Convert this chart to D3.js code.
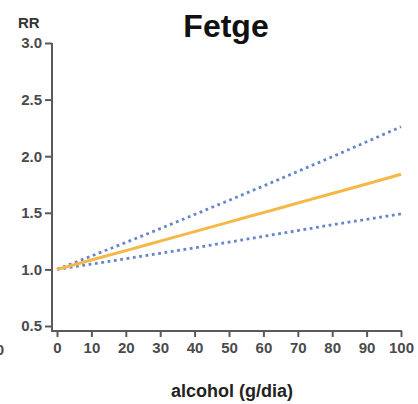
<!DOCTYPE html>
<html><head><meta charset="utf-8">
<script src="https://cdn.jsdelivr.net/npm/d3@7"></script>
<style>
html,body{margin:0;padding:0;background:#fff;}
svg{display:block;font-family:Arial,"Liberation Sans",sans-serif;}
</style></head>
<body>
<svg id="c" width="418" height="404"></svg>
<script>
const alcohol = [0,10,20,30,40,50,60,70,80,90,100];
const rrCenter = [1.000,1.083,1.166,1.250,1.334,1.418,1.502,1.586,1.670,1.755,1.840];
const rrUpper  = [1.000,1.118,1.238,1.360,1.485,1.610,1.737,1.866,1.995,2.127,2.260];
const rrLower  = [1.000,1.047,1.094,1.142,1.191,1.241,1.292,1.343,1.394,1.442,1.490];
const xTicks = [0,10,20,30,40,50,60,70,80,90,100];
const yTicks = [0.5,1.0,1.5,2.0,2.5,3.0];
const title = "Fetge";
const xLabel = "alcohol (g/dia)";
const yLabel = "RR";

const svg = d3.select("#c");
const x = d3.scaleLinear().domain([0,100]).range([57,401]);
const y = d3.scaleLinear().domain([0.5,3.0]).range([326,43]);
const axX = 52, axY = 331;
const axisCol = "#5a5a5a";

const gy = svg.append("g").attr("transform",`translate(${axX},0)`)
  .call(d3.axisLeft(y).tickValues(yTicks).tickFormat(d3.format(".1f")).tickSize(7).tickPadding(3));
const gx = svg.append("g").attr("transform",`translate(0,${axY})`)
  .call(d3.axisBottom(x).tickValues(xTicks).tickFormat(d3.format("d")).tickSize(6).tickPadding(5));
[gx,gy].forEach(g=>{
  g.select(".domain").remove();
  g.selectAll(".tick line").attr("stroke",axisCol).attr("stroke-width",2);
  g.selectAll(".tick text").attr("fill","#4a4a4a").style("font-size","15px").style("font-weight","bold");
});
svg.append("line").attr("x1",axX).attr("x2",axX).attr("y1",y(3.0)).attr("y2",axY+1)
  .attr("stroke",axisCol).attr("stroke-width",2);
svg.append("line").attr("x1",axX).attr("x2",x(100)+1).attr("y1",axY).attr("y2",axY)
  .attr("stroke",axisCol).attr("stroke-width",2);

const line = d3.line().x((d,i)=>x(alcohol[i])).y(d=>y(d)).curve(d3.curveMonotoneX);
svg.append("path").datum(rrUpper).attr("d",line).attr("fill","none")
  .attr("stroke","#6585cc").attr("stroke-width",2.8).attr("stroke-dasharray","2.8,3.6");
svg.append("path").datum(rrLower).attr("d",line).attr("fill","none")
  .attr("stroke","#6585cc").attr("stroke-width",2.8).attr("stroke-dasharray","2.8,3.6");
svg.append("path").datum(rrCenter).attr("d",line).attr("fill","none")
  .attr("stroke","#f5b846").attr("stroke-width",3);

svg.append("text").attr("x",226).attr("y",37).attr("text-anchor","middle")
  .style("font-size","32px").style("font-weight","bold").attr("fill","#111").text(title);
svg.append("text").attr("x",18).attr("y",28)
  .style("font-size","15px").style("font-weight","bold").attr("fill","#333").text(yLabel);
svg.append("text").attr("x",232).attr("y",397).attr("text-anchor","middle")
  .style("font-size","18px").style("font-weight","bold").attr("fill","#222").text(xLabel);
// partial label from neighbouring panel (cut off at the left edge as in the reference)
svg.append("text").attr("x",4).attr("y",355).attr("text-anchor","end")
  .style("font-size","15px").style("font-weight","bold").attr("fill","#4a4a4a").text("100");
</script>
</body></html>
